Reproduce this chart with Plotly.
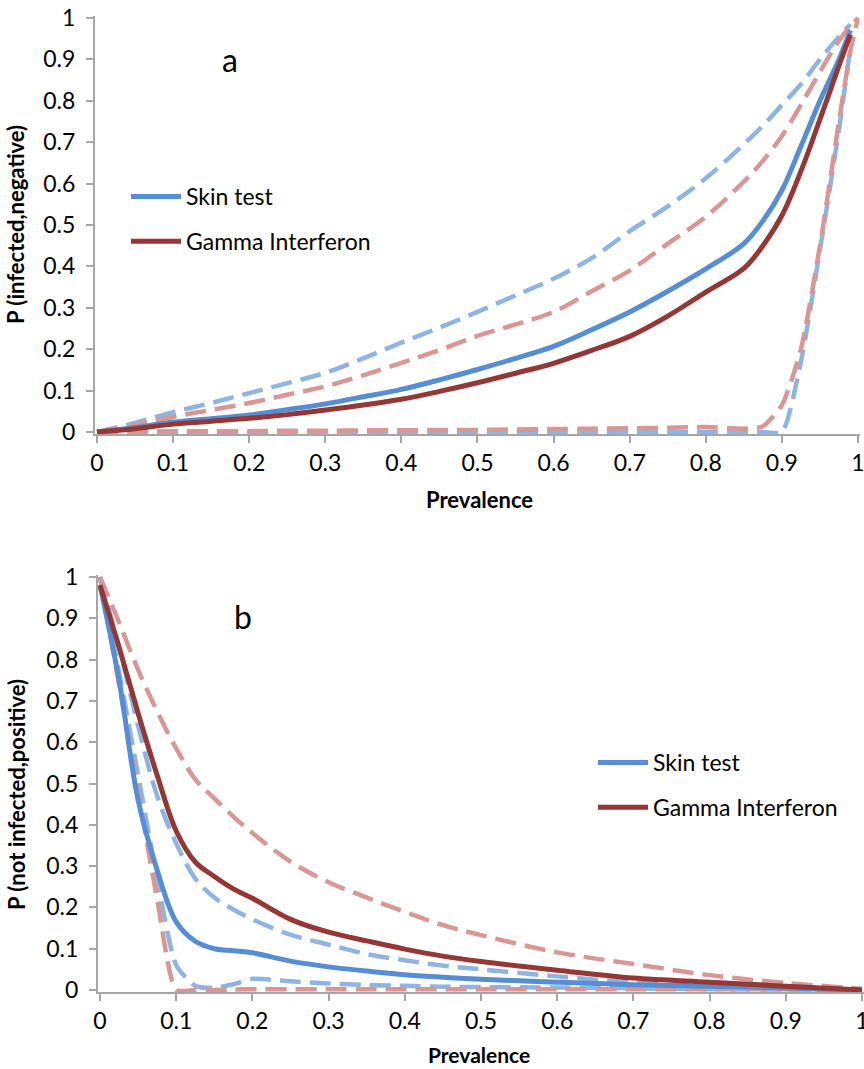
import plotly.graph_objects as go

W, H = 864, 1069

# ---------------- data ----------------
# panel a: P(infected, negative) vs prevalence
xa = [0, 0.05, 0.1, 0.15, 0.2, 0.25, 0.3, 0.35, 0.4, 0.45, 0.5, 0.55, 0.6, 0.65,
      0.7, 0.75, 0.8, 0.85, 0.875, 0.9, 0.925, 0.95, 0.975, 0.99, 1.0]
skin_a = [0, 0.011, 0.024, 0.032, 0.041, 0.054, 0.068, 0.085, 0.103, 0.126, 0.151, 0.178,
          0.207, 0.247, 0.29, 0.34, 0.394, 0.455, 0.51, 0.584, 0.69, 0.80, 0.90, 0.97, None]
gamma_a = [0, 0.008, 0.019, 0.026, 0.033, 0.042, 0.053, 0.065, 0.079, 0.098, 0.119, 0.142,
           0.166, 0.197, 0.231, 0.28, 0.338, 0.395, 0.45, 0.523, 0.63, 0.755, 0.885, 0.96, None]
skin_hi_a = [0, 0.022, 0.048, 0.07, 0.094, 0.118, 0.143, 0.178, 0.216, 0.252, 0.29, 0.33,
             0.37, 0.42, 0.485, 0.545, 0.613, 0.695, 0.74, 0.79, 0.84, 0.90, 0.955, 0.985, None]
gamma_hi_a = [0, 0.017, 0.037, 0.053, 0.07, 0.09, 0.11, 0.137, 0.167, 0.198, 0.232, 0.26,
              0.29, 0.34, 0.39, 0.455, 0.52, 0.605, 0.655, 0.715, 0.79, 0.87, 0.945, 0.98, 1.0]
skin_lo_a = [0, 0, 0, 0, 0, 0, 0, 0, 0, 0, 0, 0, 0, 0, 0, 0, 0, 0, 0, 0.0,
             0.17, 0.44, 0.73, 0.93, None]
gamma_lo_a = [0, 0.001, 0.002, 0.002, 0.002, 0.003, 0.003, 0.004, 0.004, 0.005, 0.005, 0.006,
              0.007, 0.008, 0.009, 0.01, 0.012, 0.008, 0.014, 0.065, 0.2, 0.45, 0.75, 0.92, 1.0]

# panel b: P(not infected, positive) vs prevalence
xb = [0, 0.025, 0.05, 0.075, 0.1, 0.125, 0.15, 0.175, 0.2, 0.25, 0.3, 0.35, 0.4, 0.45,
      0.5, 0.6, 0.7, 0.8, 0.9, 1.0]
skin_b = [0.98, 0.75, 0.46, 0.29, 0.165, 0.118, 0.10, 0.095, 0.09, 0.07, 0.056, 0.046,
          0.037, 0.031, 0.026, 0.019, 0.013, 0.009, 0.005, 0.0]
gamma_b = [0.98, 0.83, 0.67, 0.52, 0.385, 0.31, 0.275, 0.245, 0.222, 0.171, 0.14, 0.119,
           0.099, 0.082, 0.069, 0.048, 0.029, 0.019, 0.009, 0.0]
skin_hi_b = [1.0, 0.83, 0.64, 0.47, 0.355, 0.27, 0.224, 0.195, 0.171, 0.134, 0.11, 0.087,
             0.072, 0.059, 0.05, 0.033, 0.018, 0.008, 0.002, 0.0]
gamma_hi_b = [1.0, 0.89, 0.775, 0.675, 0.585, 0.51, 0.464, 0.42, 0.38, 0.311, 0.261, 0.224,
              0.189, 0.157, 0.133, 0.091, 0.063, 0.036, 0.017, 0.003]
skin_lo_b = [1.0, 0.77, 0.52, 0.27, 0.06, 0.01, 0.005, 0.014, 0.027, 0.021, 0.016, 0.012,
             0.01, 0.008, 0.007, 0.006, 0.004, 0.002, 0.001, 0.0]
gamma_lo_b = [1.0, 0.74, 0.48, 0.22, 0.0, 0.0, 0.0, 0.001, 0.002, 0.002, 0.002, 0.002,
              0.002, 0.002, 0.002, 0.002, 0.002, 0.002, 0.002, 0.0]

tick_vals = [0, 0.1, 0.2, 0.3, 0.4, 0.5, 0.6, 0.7, 0.8, 0.9, 1]
tick_text = ["0", "0.1", "0.2", "0.3", "0.4", "0.5", "0.6", "0.7", "0.8", "0.9", "1"]

# ---------------- style ----------------
BLUE = "#558ED5"
RED = "#953735"
LBLUE = "#8EB4E3"
PINK = "#D99694"
AXIS = "#A6A6A6"
FONT = "Lato"
TICK_SIZE = 23
DASH = "21px,9px"

fig = go.Figure()


def add_panel(x, hi_s, hi_g, lo_s, lo_g, s, g, xa_name, ya_name, legend):
    common = dict(x=x, mode="lines", xaxis=xa_name, yaxis=ya_name, hoverinfo="skip")
    smooth = dict(shape="spline", smoothing=1.0)
    tight = dict(shape="spline", smoothing=0.6)
    fig.add_trace(go.Scatter(y=hi_s, line=dict(color=LBLUE, width=4.5, dash=DASH, **smooth),
                             showlegend=False, **common))
    fig.add_trace(go.Scatter(y=hi_g, line=dict(color=PINK, width=4.5, dash=DASH, **smooth),
                             showlegend=False, **common))
    fig.add_trace(go.Scatter(y=lo_s, line=dict(color=LBLUE, width=4.5, dash=DASH, **tight),
                             showlegend=False, **common))
    fig.add_trace(go.Scatter(y=lo_g, line=dict(color=PINK, width=4.5, dash=DASH, **tight),
                             showlegend=False, **common))
    fig.add_trace(go.Scatter(y=s, name="Skin test", legend=legend, legendgroup=legend + "s",
                             line=dict(color=BLUE, width=5, **smooth), **common))
    fig.add_trace(go.Scatter(y=g, name="Gamma Interferon", legend=legend, legendgroup=legend + "g",
                             line=dict(color=RED, width=5, **smooth), **common))


add_panel(xa, skin_hi_a, gamma_hi_a, skin_lo_a, gamma_lo_a, skin_a, gamma_a, "x", "y", "legend")
add_panel(xb, skin_hi_b, gamma_hi_b, skin_lo_b, gamma_lo_b, skin_b, gamma_b, "x2", "y2", "legend2")


def xdom(px0, px1, lo, hi):
    u = px1 - px0
    return [max(0, (px0 + lo * u) / W), min(1, (px1 + (hi - 1) * u) / W)]


def ydom(py0, py1, lo, hi):
    u = py0 - py1
    return [(H - (py0 - lo * u)) / H, (H - (py1 - (hi - 1) * u)) / H]


XR = [-0.003, 1.002]
YR = [-0.006, 1.006]

axis_common = dict(showgrid=False, zeroline=False, showline=True, linecolor=AXIS, linewidth=1.5,
                   ticks="outside", ticklen=7, tickcolor=AXIS, tickwidth=1.5,
                   tickvals=tick_vals, ticktext=tick_text, automargin=False,
                   ticklabeloverflow="allow",
                   tickfont=dict(family=FONT, size=TICK_SIZE, color="#000000"))

fig.update_layout(
    template="none",
    width=W, height=H,
    margin=dict(l=0, r=0, t=0, b=0, pad=0),
    paper_bgcolor="white", plot_bgcolor="white",
    font=dict(family=FONT, color="#000000"),
    xaxis=dict(domain=xdom(97, 858, XR[0], XR[1]), range=XR, anchor="y", **axis_common),
    yaxis=dict(domain=ydom(432, 18, YR[0], YR[1]), range=YR, anchor="x", ticklabelstandoff=6, **axis_common),
    xaxis2=dict(domain=xdom(100, 862, XR[0], XR[1]), range=XR, anchor="y2", **axis_common),
    yaxis2=dict(domain=ydom(990, 577, YR[0], YR[1]), range=YR, anchor="x2", ticklabelstandoff=6, **axis_common),
    legend=dict(x=126 / W, y=1 - 175 / H, xanchor="left", yanchor="top",
                font=dict(family=FONT, size=23), tracegroupgap=12, itemwidth=50,
                bgcolor="rgba(0,0,0,0)"),
    legend2=dict(x=593 / W, y=1 - 741 / H, xanchor="left", yanchor="top",
                 font=dict(family=FONT, size=23), tracegroupgap=12, itemwidth=50,
                 bgcolor="rgba(0,0,0,0)"),
)


def ann(text, px, py, size, bold=False, angle=0):
    fig.add_annotation(text=f"<b>{text}</b>" if bold else text, x=px / W, y=1 - py / H,
                       xref="paper", yref="paper", showarrow=False, textangle=angle,
                       xanchor="center", yanchor="middle",
                       font=dict(family=FONT, size=size, color="#000000"))


ann("P (infected,negative)", 16, 225, 22, bold=True, angle=-90)
ann("P (not infected,positive)", 16, 795, 22, bold=True, angle=-90)
ann("Prevalence", 479, 500, 22, bold=True)
ann("Prevalence", 479, 1054, 21, bold=True)

# panel letters placed in data coordinates of each panel
fig.add_annotation(text="a", x=0.175, y=0.90, xref="x", yref="y", showarrow=False,
                   xanchor="center", yanchor="middle",
                   font=dict(family=FONT, size=32, color="#000000"))
fig.add_annotation(text="b", x=0.188, y=0.905, xref="x2", yref="y2", showarrow=False,
                   xanchor="center", yanchor="middle",
                   font=dict(family=FONT, size=32, color="#000000"))

fig.write_html("out.html")
